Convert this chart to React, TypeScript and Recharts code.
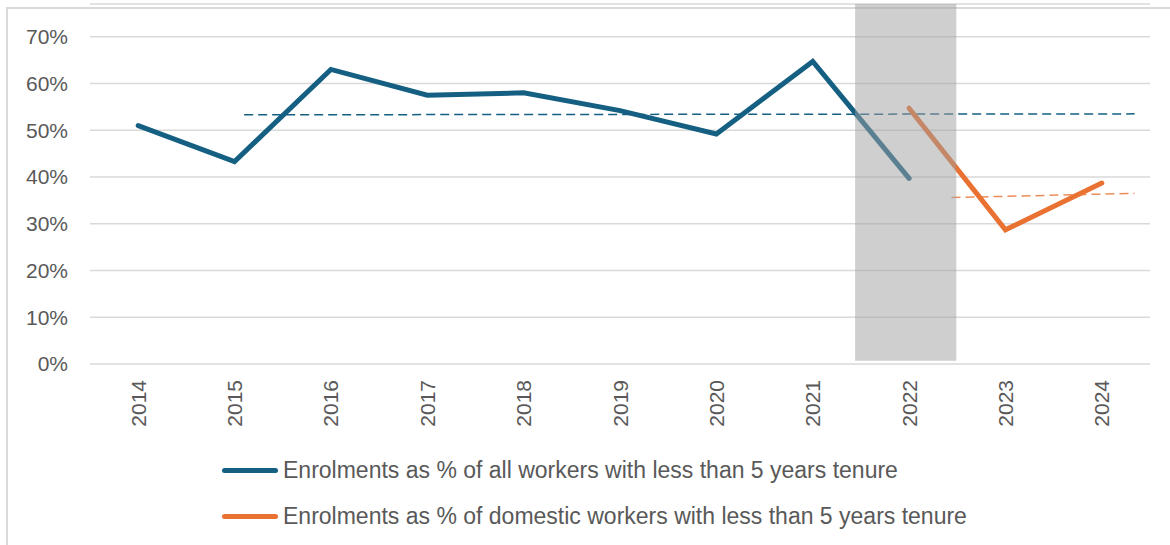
import React from "react";
import {
  LineChart,
  Line,
  XAxis,
  YAxis,
  CartesianGrid,
  ReferenceArea,
} from "recharts";

const years = ["2014", "2015", "2016", "2017", "2018", "2019", "2020", "2021", "2022", "2023", "2024"];
const allWorkers = [0.51, 0.433, 0.63, 0.575, 0.58, 0.542, 0.492, 0.647, 0.397];
const domesticWorkers = [0.547, 0.287, 0.387];
const domesticStart = 8;

// trendline endpoints, x measured in category positions
const allTrendX = [1.1, 10.34];
const allTrendY = [0.533, 0.535];
const domTrendX = [8.44, 10.34];
const domTrendY = [0.356, 0.365];

const yTicks = [0, 0.1, 0.2, 0.3, 0.4, 0.5, 0.6, 0.7];

const BLUE = "#156082";
const ORANGE = "#E97132";
const TEXT = "#595959";
const GRID = "#D9D9D9";

const allData = allWorkers.map((v, i) => ({ x: i, v }));
const domData = domesticWorkers.map((v, i) => ({ x: domesticStart + i, v }));
const allTrend = allTrendX.map((x, i) => ({ x, v: allTrendY[i] }));
const domTrend = domTrendX.map((x, i) => ({ x, v: domTrendY[i] }));

const YearTick = (props: any) => {
  const { x, y, payload } = props;
  return (
    <text
      x={x}
      y={y}
      transform={`rotate(-90, ${x}, ${y})`}
      textAnchor="end"
      dy="0.36em"
      fill={TEXT}
      fontSize={21}
      fontFamily="'Liberation Sans', Arial, sans-serif"
    >
      {years[payload.value]}
    </text>
  );
};

const legendItems = [
  { color: BLUE, label: "Enrolments as % of all workers with less than 5 years tenure", top: 470 },
  { color: ORANGE, label: "Enrolments as % of domestic workers with less than 5 years tenure", top: 516 },
];

export default function App() {
  return (
    <div
      style={{
        position: "absolute",
        left: 0,
        top: 0,
        width: 1170,
        height: 545,
        background: "#fff",
        overflow: "hidden",
        fontFamily: "'Liberation Sans', Arial, sans-serif",
      }}
    >
      <div
        style={{
          position: "absolute",
          left: 6,
          top: 7,
          width: 1200,
          height: 600,
          borderTop: `2px solid ${GRID}`,
          borderLeft: `2px solid ${GRID}`,
        }}
      />
      <div style={{ position: "absolute", left: 0, top: 0 }}>
        <LineChart width={1170} height={545} margin={{ top: 4, right: 20, bottom: 101, left: 0 }}>
          <CartesianGrid vertical={false} stroke={GRID} strokeWidth={1.5} />
          <XAxis
            dataKey="x"
            type="number"
            domain={[-0.5, 10.5]}
            ticks={years.map((_, i) => i)}
            allowDataOverflow
            axisLine={false}
            tickLine={false}
            tickSize={0}
            tickMargin={16}
            height={80}
            interval={0}
            tick={<YearTick />}
          />
          <YAxis
            type="number"
            domain={[0, 0.77]}
            ticks={yTicks}
            allowDataOverflow
            width={90}
            axisLine={false}
            tickLine={false}
            tickSize={0}
            tickMargin={22}
            tick={{ fill: TEXT, fontSize: 21 }}
            tickFormatter={(v: number) => `${Math.round(v * 100)}%`}
          />
          <Line
            data={allTrend}
            dataKey="v"
            stroke={BLUE}
            strokeWidth={1.5}
            strokeDasharray="9 5"
            dot={false}
            activeDot={false}
            isAnimationActive={false}
          />
          <Line
            data={domTrend}
            dataKey="v"
            stroke={ORANGE}
            strokeOpacity={0.8}
            strokeWidth={1.5}
            strokeDasharray="9 5"
            dot={false}
            activeDot={false}
            isAnimationActive={false}
          />
          <Line
            data={allData}
            dataKey="v"
            stroke={BLUE}
            strokeWidth={5}
            strokeLinecap="round"
            dot={false}
            activeDot={false}
            isAnimationActive={false}
          />
          <Line
            data={domData}
            dataKey="v"
            stroke={ORANGE}
            strokeWidth={5}
            strokeLinecap="round"
            dot={false}
            activeDot={false}
            isAnimationActive={false}
          />
          <ReferenceArea
            x1={7.44}
            x2={8.49}
            y1={0.007}
            y2={0.77}
            fill="#A0A0A0"
            fillOpacity={0.5}
            ifOverflow="visible"
            zIndex={450}
          />
        </LineChart>
      </div>
      {legendItems.map((item) => (
        <div
          key={item.label}
          style={{
            position: "absolute",
            left: 222,
            top: item.top - 15,
            height: 30,
            display: "flex",
            alignItems: "center",
          }}
        >
          <div
            style={{
              width: 56,
              height: 5,
              borderRadius: 3,
              background: item.color,
              marginRight: 5,
            }}
          />
          <span style={{ fontSize: 23, color: TEXT, whiteSpace: "nowrap" }}>{item.label}</span>
        </div>
      ))}
    </div>
  );
}
